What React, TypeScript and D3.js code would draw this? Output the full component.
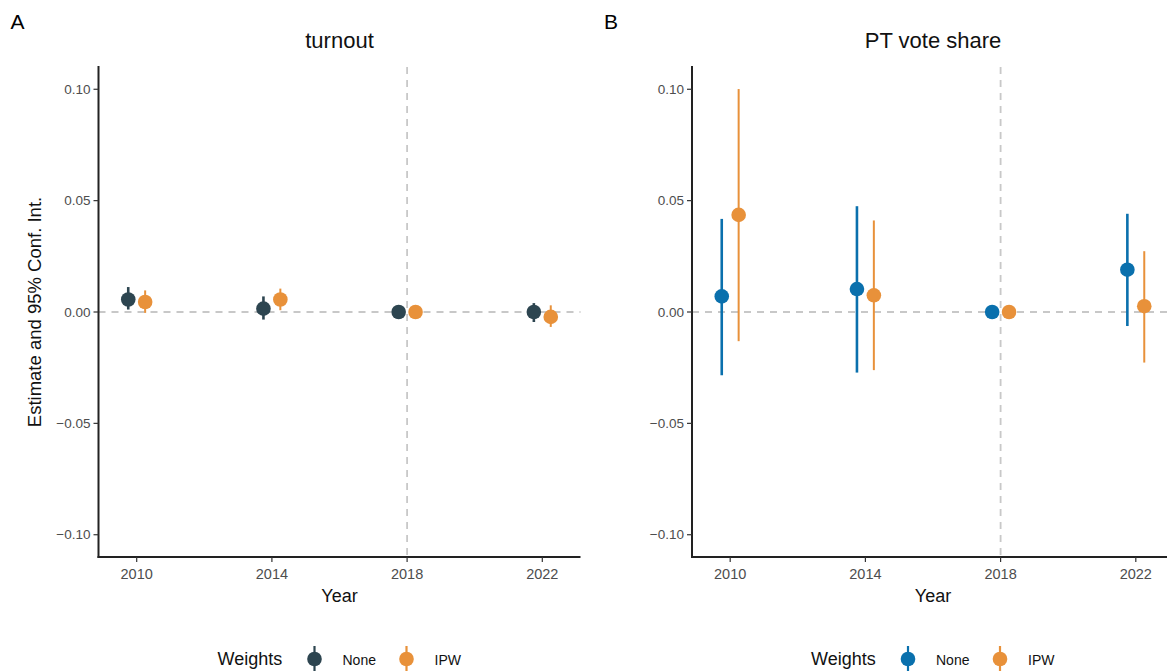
import React from "react";
import * as d3 from "d3";

const years = [2010, 2014, 2018, 2022];
const weightLabels = ["None", "IPW"];

// turnout
const turnoutNoneEst = [0.0056, 0.0015, 0, 0.0];
const turnoutNoneLo = [0.0011, -0.0034, 0, -0.0045];
const turnoutNoneHi = [0.0112, 0.007, 0, 0.004];
const turnoutIpwEst = [0.0045, 0.0056, 0, -0.0022];
const turnoutIpwLo = [-0.0004, 0.0008, 0, -0.0067];
const turnoutIpwHi = [0.0097, 0.0105, 0, 0.003];

// PT vote share
const ptNoneEst = [0.007, 0.0103, 0, 0.019];
const ptNoneLo = [-0.0284, -0.0272, 0, -0.0063];
const ptNoneHi = [0.0418, 0.0475, 0, 0.0441];
const ptIpwEst = [0.0436, 0.0075, 0, 0.0026];
const ptIpwLo = [-0.0131, -0.0261, 0, -0.0227];
const ptIpwHi = [0.1001, 0.0411, 0, 0.0273];

const yTicks = [-0.1, -0.05, 0, 0.05, 0.1];
const FONT = "'Liberation Sans', Arial, Helvetica, sans-serif";
const ORANGE = "#e8913a";

const build = (est, lo, hi) => years.map((year, i) => ({ year, est: est[i], lo: lo[i], hi: hi[i] }));

const Panel = ({ left, letter, title, none, ipw, noneColor, showYTitle }) => {
  const width = 482;
  const top = 67;
  const bottom = 557;
  const x = d3.scaleLinear().domain([2008.87, 2023.13]).range([left, left + width]);
  const y = d3.scaleLinear().domain([-0.11, 0.11]).range([bottom, top]);
  const fmt = d3.format(".2f");
  const dodge = 0.25;
  const cx = (left + left + width) / 2;

  const series = [
    { rows: none, color: noneColor, off: -dodge, lw: 2.6 },
    { rows: ipw, color: ORANGE, off: dodge, lw: 2 },
  ];

  return (
    <g>
      <text x={left - 88} y={29} fontSize={21} fill="#000">{letter}</text>
      <text x={cx} y={48} fontSize={22} textAnchor="middle" fill="#111">{title}</text>

      <line x1={left} x2={left + width} y1={y(0)} y2={y(0)} stroke="#c8c8c8" strokeWidth={1.8} strokeDasharray="7 6" />
      <line x1={x(2018)} x2={x(2018)} y1={top} y2={bottom} stroke="#c8c8c8" strokeWidth={1.8} strokeDasharray="7 6" />

      {series.map((s, si) => (
        <g key={si}>
          {s.rows.filter(d => d.hi !== d.lo).map(d => (
            <line key={d.year} x1={x(d.year + s.off)} x2={x(d.year + s.off)} y1={y(d.lo)} y2={y(d.hi)}
              stroke={s.color} strokeWidth={s.lw} />
          ))}
          {s.rows.map(d => (
            <circle key={d.year} cx={x(d.year + s.off)} cy={y(d.est)} r={7.3} fill={s.color} />
          ))}
        </g>
      ))}

      {/* axes */}
      <line x1={left} x2={left} y1={top - 1} y2={bottom + 1} stroke="#222" strokeWidth={2} />
      <line x1={left - 1} x2={left + width} y1={bottom} y2={bottom} stroke="#222" strokeWidth={2} />
      {yTicks.map(t => (
        <g key={t}>
          <line x1={left - 5} x2={left} y1={y(t)} y2={y(t)} stroke="#333" strokeWidth={1.2} />
          <text x={left - 8} y={y(t)} dy="0.35em" textAnchor="end" fontSize={13.5} fill="#4d4d4d">{fmt(t)}</text>
        </g>
      ))}
      {years.map(t => (
        <g key={t}>
          <line x1={x(t)} x2={x(t)} y1={bottom} y2={bottom + 5} stroke="#333" strokeWidth={1.2} />
          <text x={x(t)} y={579} textAnchor="middle" fontSize={14.5} fill="#4d4d4d">{t}</text>
        </g>
      ))}
      <text x={cx} y={602} textAnchor="middle" fontSize={18} fill="#111">Year</text>
      {showYTitle && (
        <text transform={`translate(${left - 58},${(top + bottom) / 2}) rotate(-90)`} textAnchor="middle" fontSize={18.5} fill="#111">
          Estimate and 95% Conf. Int.
        </text>
      )}

      {/* legend */}
      <g transform={`translate(${cx - 122},0)`}>
        <text x={0} y={665} fontSize={18} fill="#111">Weights</text>
        {weightLabels.map((w, i) => {
          const gx = 97 + i * 92;
          const c = i === 0 ? noneColor : ORANGE;
          return (
            <g key={w}>
              <line x1={gx} x2={gx} y1={646} y2={672} stroke={c} strokeWidth={2.2} />
              <circle cx={gx} cy={659} r={7.3} fill={c} />
              <text x={gx + 28} y={665} fontSize={14} fill="#111">{w}</text>
            </g>
          );
        })}
      </g>
    </g>
  );
};

export default function App() {
  return (
    <div style={{ position: "absolute", left: 0, top: 0 }}>
      <svg width={1167} height={671} style={{ display: "block", fontFamily: FONT, background: "#fff" }}>
        <Panel left={98.5} letter="A" title="turnout"
          none={build(turnoutNoneEst, turnoutNoneLo, turnoutNoneHi)}
          ipw={build(turnoutIpwEst, turnoutIpwLo, turnoutIpwHi)}
          noneColor="#2d4550" showYTitle />
        <Panel left={692} letter="B" title="PT vote share"
          none={build(ptNoneEst, ptNoneLo, ptNoneHi)}
          ipw={build(ptIpwEst, ptIpwLo, ptIpwHi)}
          noneColor="#0a70ad" showYTitle={false} />
      </svg>
    </div>
  );
}
